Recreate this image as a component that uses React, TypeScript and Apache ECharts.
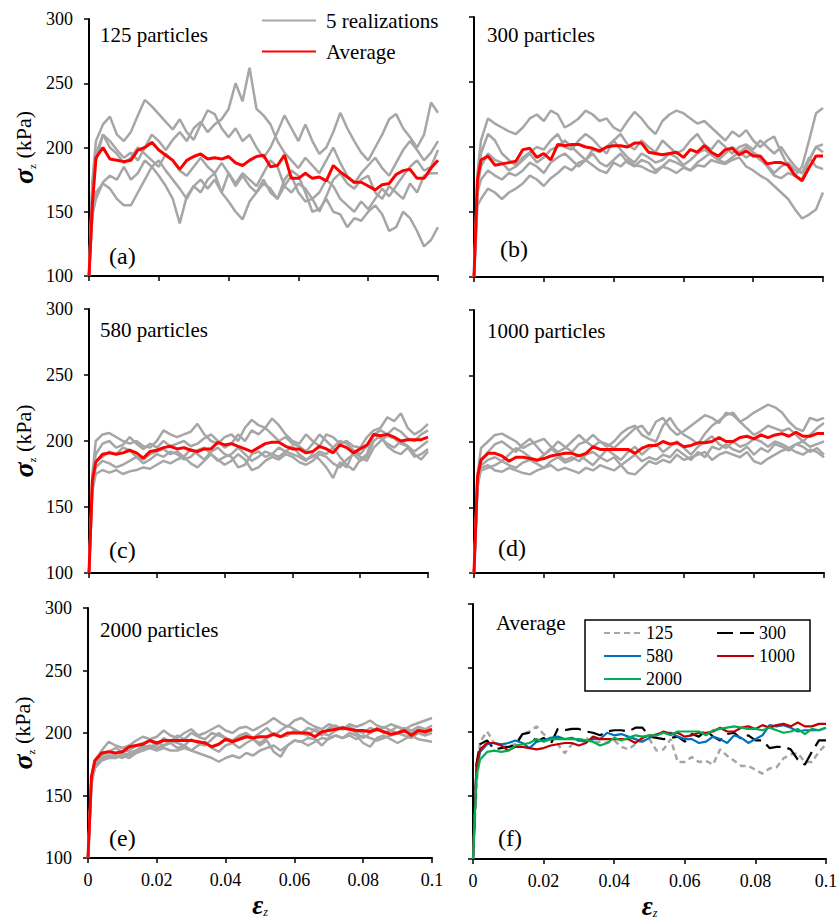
import React, { useEffect, useRef } from "react";
import * as echarts from "echarts";

const SERIF = "Liberation Serif, Times New Roman, serif";

// axial strain samples shared by every curve
const strain = [
  0, 0.001, 0.002, 0.004, 0.006, 0.008, 0.01, 0.012, 0.014, 0.016, 0.018, 0.02,
  0.022, 0.024, 0.026, 0.028, 0.03, 0.032, 0.034, 0.036, 0.038, 0.04, 0.042,
  0.044, 0.046, 0.048, 0.05, 0.052, 0.054, 0.056, 0.058, 0.06, 0.062, 0.064,
  0.066, 0.068, 0.07, 0.072, 0.074, 0.076, 0.078, 0.08, 0.082, 0.084, 0.086,
  0.088, 0.09, 0.092, 0.094, 0.096, 0.098, 0.1,
];

// axis ticks
const stressTicks = [100, 150, 200, 250, 300];
const strainTicks = [0, 0.02, 0.04, 0.06, 0.08, 0.1];

// ---- 125 particles: five realizations and their average (kPa) ----
const runs125 = [
  [100, 175, 205, 218, 224, 210, 205, 212, 225, 237, 232, 226, 220, 214, 222, 212, 206, 218, 229, 226, 215, 208, 215, 205, 210, 200, 192, 200, 212, 225, 215, 205, 218, 205, 195, 200, 212, 227, 215, 205, 196, 190, 200, 210, 222, 226, 215, 208, 200, 210, 235, 227],
  [100, 170, 190, 210, 205, 198, 192, 196, 190, 200, 210, 205, 198, 206, 212, 205, 215, 220, 212, 218, 222, 230, 250, 236, 262, 230, 225, 218, 205, 196, 190, 184, 192, 186, 180, 190, 200, 188, 178, 172, 180, 186, 192, 184, 178, 188, 198, 205, 198, 190, 196, 205],
  [100, 172, 195, 210, 200, 195, 188, 192, 200, 195, 190, 185, 195, 190, 182, 178, 185, 192, 185, 180, 188, 180, 172, 180, 175, 170, 180, 190, 185, 170, 165, 172, 168, 160, 165, 175, 170, 160, 155, 150, 158, 152, 160, 168, 162, 170, 178, 185, 190, 182, 185, 198],
  [100, 150, 165, 172, 168, 160, 155, 155, 165, 175, 185, 190, 182, 175, 168, 160, 170, 175, 168, 175, 165, 180, 170, 178, 170, 165, 175, 165, 160, 170, 178, 165, 158, 160, 150, 162, 175, 180, 172, 168, 175, 178, 165, 160, 170, 165, 160, 172, 165, 178, 180, 180],
  [100, 148, 160, 173, 178, 175, 185, 175, 180, 190, 185, 178, 170, 160, 141, 162, 170, 165, 175, 180, 165, 158, 150, 144, 158, 165, 172, 168, 160, 175, 182, 178, 165, 150, 152, 160, 150, 148, 138, 145, 143, 150, 155, 148, 135, 138, 150, 145, 135, 123, 128, 138],
];
const avg125 = [100, 157, 192, 200, 191, 190, 189, 190, 198, 200, 204, 198, 194, 190, 183, 190, 193, 195, 191, 192, 191, 193, 188, 186, 190, 193, 194, 185, 186, 194, 176, 176, 180, 176, 177, 174, 186, 181, 177, 173, 173, 170, 167, 171, 172, 179, 182, 183, 176, 176, 184, 190];

// ---- 300 particles ----
const runs300 = [
  [100, 180, 205, 222, 218, 215, 212, 210, 215, 222, 225, 220, 228, 225, 215, 218, 222, 228, 225, 220, 222, 215, 212, 220, 227, 222, 215, 210, 220, 225, 228, 226, 222, 218, 220, 215, 210, 205, 212, 208, 213, 205, 200, 205, 208, 196, 185, 178, 185, 205, 226, 230],
  [100, 175, 195, 210, 205, 195, 190, 186, 192, 196, 200, 198, 205, 210, 200, 198, 205, 210, 206, 200, 195, 205, 210, 202, 198, 205, 200, 196, 205, 200, 195, 198, 205, 210, 202, 198, 205, 200, 195, 200, 202, 198, 205, 200, 195, 200, 192, 185, 180, 190, 200, 196],
  [100, 170, 185, 195, 190, 188, 182, 185, 190, 195, 188, 192, 198, 200, 205, 200, 195, 190, 198, 196, 200, 205, 198, 192, 188, 195, 192, 188, 190, 195, 192, 186, 190, 195, 198, 194, 190, 195, 200, 196, 192, 195, 190, 186, 180, 185, 188, 182, 180, 192, 185, 183],
  [100, 165, 175, 182, 178, 175, 180, 178, 182, 188, 185, 180, 188, 192, 195, 190, 185, 190, 195, 188, 185, 190, 195, 188, 185, 190, 188, 182, 185, 190, 188, 185, 182, 188, 192, 196, 190, 188, 192, 196, 200, 196, 192, 185, 178, 176, 180, 178, 175, 190, 200, 202],
  [100, 155, 160, 168, 165, 160, 165, 168, 172, 178, 175, 170, 176, 180, 185, 182, 188, 190, 186, 182, 180, 188, 185, 190, 186, 185, 182, 180, 185, 183, 180, 184, 182, 186, 185, 190, 188, 187, 190, 192, 185, 182, 178, 175, 170, 165, 160, 152, 145, 148, 152, 165],
];
const avg300 = [100, 175, 190, 193, 186, 187, 188, 189, 198, 199, 192, 195, 190, 202, 201, 202, 202, 200, 199, 197, 200, 201, 201, 200, 203, 203, 196, 195, 194, 195, 196, 192, 198, 196, 201, 196, 193, 198, 199, 194, 197, 193, 193, 187, 188, 188, 186, 178, 174, 184, 193, 193];

// ---- 580 particles ----
const runs580 = [
  [100, 175, 200, 205, 206, 203, 200, 198, 200, 196, 195, 200, 208, 205, 203, 205, 207, 213, 205, 200, 198, 203, 205, 200, 210, 216, 212, 210, 217, 212, 205, 200, 198, 205, 200, 196, 205, 203, 198, 200, 196, 195, 203, 208, 210, 218, 215, 221, 210, 205, 208, 213],
  [100, 170, 190, 198, 200, 195, 197, 203, 198, 194, 198, 195, 200, 196, 198, 200, 196, 198, 202, 205, 200, 195, 198, 205, 200, 208, 205, 210, 205, 200, 203, 198, 196, 192, 198, 205, 200, 195, 200, 198, 193, 190, 196, 205, 208, 205, 210, 207, 202, 200, 205, 208],
  [100, 168, 185, 188, 192, 190, 195, 193, 188, 186, 190, 192, 194, 190, 192, 188, 194, 190, 186, 192, 195, 190, 188, 180, 182, 190, 192, 188, 190, 195, 192, 190, 188, 185, 190, 186, 180, 172, 184, 180, 192, 188, 185, 195, 200, 204, 202, 198, 196, 192, 196, 200],
  [100, 165, 180, 185, 183, 180, 182, 185, 188, 183, 186, 190, 188, 192, 190, 186, 188, 193, 195, 190, 185, 188, 190, 195, 190, 185, 188, 192, 190, 188, 192, 196, 190, 186, 188, 192, 190, 195, 188, 182, 178, 186, 190, 205, 202, 198, 195, 200, 196, 190, 186, 192],
  [100, 162, 175, 178, 176, 178, 175, 177, 178, 180, 179, 182, 185, 183, 186, 188, 183, 180, 185, 190, 186, 182, 185, 190, 186, 178, 180, 185, 188, 186, 190, 188, 184, 182, 185, 190, 188, 183, 180, 186, 190, 185, 188, 200, 204, 196, 192, 190, 195, 188, 190, 194],
];
const avg580 = [100, 170, 184, 190, 191, 190, 191, 193, 191, 187, 192, 193, 195, 196, 194, 195, 193, 192, 194, 194, 199, 197, 198, 196, 194, 192, 195, 198, 199, 199, 196, 194, 194, 191, 192, 196, 194, 191, 197, 195, 191, 194, 197, 205, 204, 205, 203, 200, 201, 201, 201, 203];

// ---- 1000 particles ----
const runs1000 = [
  [100, 175, 195, 200, 205, 206, 203, 200, 195, 198, 200, 202, 196, 192, 195, 200, 205, 200, 196, 200, 198, 195, 200, 205, 210, 212, 205, 215, 218, 210, 205, 208, 212, 216, 220, 218, 214, 222, 220, 215, 218, 222, 225, 228, 226, 222, 215, 210, 208, 218, 216, 218],
  [100, 172, 185, 192, 198, 200, 196, 192, 198, 202, 196, 190, 194, 200, 196, 192, 198, 200, 205, 200, 196, 200, 206, 210, 212, 205, 202, 200, 212, 218, 210, 205, 202, 198, 206, 212, 216, 220, 222, 215, 210, 205, 208, 212, 210, 208, 210, 205, 200, 205, 210, 214],
  [100, 170, 182, 186, 188, 185, 190, 195, 192, 188, 185, 190, 195, 190, 186, 188, 185, 190, 192, 188, 194, 190, 186, 192, 196, 190, 195, 198, 192, 196, 200, 195, 190, 196, 200, 204, 198, 195, 200, 196, 198, 202, 200, 196, 200, 198, 195, 198, 200, 196, 198, 200],
  [100, 168, 178, 180, 182, 185, 182, 180, 184, 186, 183, 180, 185, 188, 184, 186, 190, 186, 182, 188, 185, 188, 182, 186, 190, 185, 188, 186, 190, 188, 194, 190, 186, 192, 188, 196, 194, 198, 194, 192, 196, 190, 195, 192, 198, 196, 193, 198, 196, 192, 195, 190],
  [100, 165, 180, 182, 178, 177, 180, 178, 176, 175, 178, 180, 182, 178, 180, 178, 176, 180, 178, 182, 180, 178, 182, 176, 175, 180, 185, 183, 186, 184, 190, 186, 188, 190, 192, 186, 190, 192, 190, 188, 192, 185, 183, 187, 190, 193, 195, 192, 190, 194, 192, 188],
];
const avg1000 = [100, 173, 186, 191, 191, 189, 185, 188, 188, 187, 186, 187, 189, 190, 191, 191, 189, 191, 196, 194, 194, 194, 194, 194, 191, 195, 197, 197, 200, 198, 199, 196, 197, 199, 199, 200, 203, 200, 200, 203, 204, 202, 205, 203, 205, 206, 204, 207, 204, 204, 206, 206];

// ---- 2000 particles ----
const runs2000 = [
  [100, 165, 178, 186, 193, 190, 188, 190, 194, 197, 195, 197, 202, 198, 196, 200, 203, 198, 200, 203, 206, 202, 200, 204, 205, 202, 205, 208, 212, 208, 205, 210, 212, 208, 205, 203, 207, 205, 203, 207, 205, 207, 210, 206, 204, 207, 205, 203, 206, 208, 210, 212],
  [100, 163, 176, 182, 185, 188, 185, 186, 190, 192, 194, 190, 196, 193, 198, 195, 200, 197, 195, 200, 198, 196, 194, 198, 200, 196, 200, 204, 198, 202, 206, 203, 200, 204, 202, 198, 204, 206, 203, 205, 202, 200, 204, 202, 205, 202, 200, 204, 202, 205, 203, 206],
  [100, 162, 175, 180, 182, 180, 184, 182, 186, 190, 188, 192, 190, 194, 192, 190, 195, 192, 190, 195, 200, 196, 193, 196, 198, 195, 192, 196, 200, 197, 198, 202, 200, 198, 203, 200, 198, 202, 205, 203, 200, 196, 200, 204, 200, 202, 205, 202, 200, 203, 200, 202],
  [100, 160, 172, 180, 182, 182, 180, 184, 186, 188, 190, 188, 190, 192, 188, 190, 186, 190, 193, 188, 185, 190, 192, 188, 192, 195, 190, 194, 185, 181, 190, 194, 193, 196, 195, 190, 196, 198, 196, 200, 198, 192, 189, 196, 198, 195, 192, 195, 198, 195, 194, 193],
  [100, 160, 172, 178, 180, 180, 182, 180, 184, 186, 188, 186, 188, 186, 186, 188, 186, 184, 182, 180, 177, 180, 182, 180, 184, 182, 186, 188, 190, 186, 190, 194, 193, 190, 193, 196, 195, 198, 196, 198, 195, 198, 196, 194, 196, 198, 200, 198, 196, 200, 198, 200],
];
const avg2000 = [100, 165, 178, 184, 185, 184, 185, 189, 190, 191, 194, 192, 194, 194, 194, 194, 194, 193, 192, 189, 191, 195, 193, 195, 197, 196, 197, 197, 199, 197, 200, 200, 200, 200, 197, 201, 202, 203, 204, 203, 202, 202, 201, 203, 201, 199, 200, 202, 198, 202, 201, 203];

// particle counts compared in the last panel
const sizeNames = ["125", "300", "580", "1000", "2000"];

const GRAY = "#A6A6A6";
const RED = "#FF0000";

type Panel = {
  title: string;
  tag: string;
  runs?: number[][];
  avg?: number[];
  box: { left: number; top: number; width: number; height: number };
  leftCol: boolean;
  bottomRow: boolean;
  titleAt: [number, number];
  tagAt: [number, number];
};

const panels: Panel[] = [
  { title: "125 particles", tag: "(a)", runs: runs125, avg: avg125, box: { left: 89, top: 19, width: 349, height: 257 }, leftCol: true, bottomRow: false, titleAt: [100, 35], tagAt: [109, 256] },
  { title: "300 particles", tag: "(b)", runs: runs300, avg: avg300, box: { left: 474, top: 17, width: 349, height: 260 }, leftCol: false, bottomRow: false, titleAt: [487, 35], tagAt: [500, 249] },
  { title: "580 particles", tag: "(c)", runs: runs580, avg: avg580, box: { left: 89, top: 309, width: 339, height: 264 }, leftCol: true, bottomRow: false, titleAt: [100, 330], tagAt: [109, 550] },
  { title: "1000 particles", tag: "(d)", runs: runs1000, avg: avg1000, box: { left: 474, top: 310, width: 350, height: 263 }, leftCol: false, bottomRow: false, titleAt: [487, 331], tagAt: [498, 548] },
  { title: "2000 particles", tag: "(e)", runs: runs2000, avg: avg2000, box: { left: 88, top: 608, width: 344, height: 250 }, leftCol: true, bottomRow: true, titleAt: [100, 630], tagAt: [109, 838] },
  { title: "Average", tag: "(f)", box: { left: 473, top: 604, width: 353, height: 255 }, leftCol: false, bottomRow: true, titleAt: [496, 623], tagAt: [498, 838] },
];

const averageStyles = [
  { name: sizeNames[0], data: avg125, color: GRAY, type: [6, 4], width: 2.5 },
  { name: sizeNames[1], data: avg300, color: "#000000", type: [16, 7], width: 2.2 },
  { name: sizeNames[2], data: avg580, color: "#0070C0", type: "solid", width: 2.2 },
  { name: sizeNames[3], data: avg1000, color: "#C00000", type: "solid", width: 2.2 },
  { name: sizeNames[4], data: avg2000, color: "#00B050", type: "solid", width: 2.2 },
];

const pairs = (vals: number[]) => strain.map((x, j) => [x, vals[j]]);

function buildOption() {
  const grid = panels.map((p) => ({ ...p.box, containLabel: false, outerBoundsMode: "none" }));

  const xAxis = panels.map((p, i) => ({
    type: "value",
    gridIndex: i,
    min: strainTicks[0],
    max: strainTicks[strainTicks.length - 1],
    interval: strainTicks[1] - strainTicks[0],
    axisLine: { show: true, onZero: false, lineStyle: { color: "#000", width: 2 } },
    axisTick: { show: true, length: 5, lineStyle: { color: "#000", width: 1.5 } },
    splitLine: { show: false },
    axisLabel: {
      show: p.bottomRow,
      margin: 13,
      fontFamily: SERIF,
      fontSize: 18,
      color: "#000",
      formatter: (v: number) => String(+v.toFixed(3)),
    },
    name: p.bottomRow ? "{e|ε}{s|z}" : "",
    nameLocation: "middle",
    nameGap: 34,
    nameTextStyle: {
      rich: {
        e: { fontFamily: SERIF, fontSize: 27, fontStyle: "italic", fontWeight: "bold", color: "#000", lineHeight: 26 },
        s: { fontFamily: SERIF, fontSize: 12, fontStyle: "italic", color: "#000", verticalAlign: "bottom", lineHeight: 26, padding: [10, 0, 0, 0] },
      },
    },
  }));

  const yAxis = panels.map((p, i) => ({
    type: "value",
    gridIndex: i,
    min: stressTicks[0],
    max: stressTicks[stressTicks.length - 1],
    interval: stressTicks[1] - stressTicks[0],
    axisLine: { show: true, onZero: false, lineStyle: { color: "#000", width: 2 } },
    axisTick: { show: true, length: 5, lineStyle: { color: "#000", width: 1.5 } },
    splitLine: { show: false },
    axisLabel: { show: p.leftCol, margin: 16, fontFamily: SERIF, fontSize: 18, color: "#000" },
    name: p.leftCol ? "{g|σ}{s|z}{u| (kPa)}" : "",
    nameLocation: "middle",
    nameRotate: 90,
    nameGap: 52,
    nameTextStyle: {
      rich: {
        g: { fontFamily: SERIF, fontSize: 28, fontStyle: "italic", fontWeight: "bold", color: "#000", lineHeight: 28 },
        s: { fontFamily: SERIF, fontSize: 11, color: "#000", verticalAlign: "bottom", lineHeight: 28, padding: [8, 0, 0, 0] },
        u: { fontFamily: SERIF, fontSize: 22, color: "#000", lineHeight: 28 },
      },
    },
  }));

  const series: any[] = [];
  panels.forEach((p, i) => {
    if (!p.runs || !p.avg) return;
    p.runs.forEach((r) => {
      series.push({
        type: "line",
        name: "5 realizations",
        xAxisIndex: i,
        yAxisIndex: i,
        data: pairs(r),
        symbol: "none",
        silent: true,
        itemStyle: { color: GRAY },
        lineStyle: { color: GRAY, width: 2.5 },
        z: 2,
      });
    });
    series.push({
      type: "line",
      name: "Average",
      xAxisIndex: i,
      yAxisIndex: i,
      data: pairs(p.avg),
      symbol: "none",
      silent: true,
      itemStyle: { color: RED },
      lineStyle: { color: RED, width: 3 },
      z: 3,
    });
  });
  averageStyles.forEach((s) => {
    series.push({
      type: "line",
      name: s.name,
      xAxisIndex: 5,
      yAxisIndex: 5,
      data: pairs(s.data),
      symbol: "none",
      silent: true,
      itemStyle: { color: s.color },
      lineStyle: { color: s.color, width: s.width, type: s.type },
      z: 3,
    });
  });

  const legendText = (size: number) => ({ fontFamily: SERIF, fontSize: size, color: "#000" });
  // legend keys are drawn as plain line segments: hide the marker dot
  const keyStyle = { opacity: 0, borderWidth: 0 };

  const legend = [
    {
      data: ["5 realizations", "Average"],
      orient: "vertical",
      left: 261,
      top: 10,
      padding: 0,
      itemWidth: 54,
      itemHeight: 4,
      itemGap: 10,
      selectedMode: false,
      itemStyle: keyStyle,
      textStyle: { ...legendText(21), padding: [0, 0, 0, 5] },
    },
    {
      data: [sizeNames[0], sizeNames[2], sizeNames[4]],
      orient: "vertical",
      left: 603,
      top: 624,
      padding: 0,
      itemWidth: 37,
      itemHeight: 4,
      itemGap: 5,
      selectedMode: false,
      itemStyle: keyStyle,
      textStyle: legendText(18),
    },
    {
      data: [sizeNames[1], sizeNames[3]],
      orient: "vertical",
      left: 716,
      top: 624,
      padding: 0,
      itemWidth: 37,
      itemHeight: 4,
      itemGap: 5,
      selectedMode: false,
      itemStyle: keyStyle,
      textStyle: legendText(18),
    },
  ];

  const graphic: any[] = [
    {
      type: "rect",
      z: 1,
      shape: { x: 585, y: 620, width: 225, height: 71 },
      style: { fill: "#fff", stroke: "#000", lineWidth: 1.5 },
    },
  ];
  panels.forEach((p) => {
    graphic.push({
      type: "text",
      x: p.titleAt[0],
      y: p.titleAt[1],
      z: 5,
      style: { text: p.title, fontFamily: SERIF, fontSize: 21, fill: "#000", verticalAlign: "middle" },
    });
    graphic.push({
      type: "text",
      x: p.tagAt[0],
      y: p.tagAt[1],
      z: 5,
      style: { text: p.tag, fontFamily: SERIF, fontSize: 24, fill: "#000", verticalAlign: "middle" },
    });
  });

  return {
    animation: false,
    backgroundColor: "#fff",
    textStyle: { fontFamily: SERIF },
    grid,
    xAxis,
    yAxis,
    legend,
    graphic,
    series,
  };
}

export default function App() {
  const ref = useRef<HTMLDivElement>(null);
  useEffect(() => {
    if (!ref.current) return;
    const chart = echarts.init(ref.current, undefined, { renderer: "svg" });
    chart.setOption(buildOption() as any);
    return () => chart.dispose();
  }, []);
  return (
    <div
      ref={ref}
      style={{ position: "absolute", left: 0, top: 0, width: 837, height: 922, background: "#fff" }}
    />
  );
}
